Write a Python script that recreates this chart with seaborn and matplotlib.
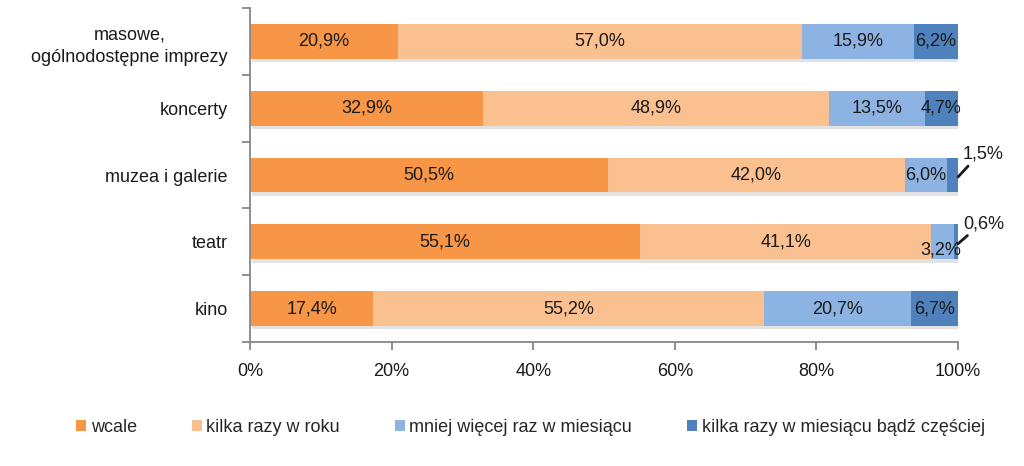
import numpy as np
import pandas as pd
import matplotlib
matplotlib.use("Agg")
import matplotlib.pyplot as plt
import matplotlib.patheffects as pe
import seaborn as sns
from matplotlib.patches import Patch

categories = ["masowe,\nogólnodostępne imprezy", "koncerty", "muzea i galerie", "teatr", "kino"]
series_names = ["wcale", "kilka razy w roku", "mniej więcej raz w miesiącu",
                "kilka razy w miesiącu bądź częściej"]
wcale = [20.9, 32.9, 50.5, 55.1, 17.4]
kilka_rok = [57.0, 48.9, 42.0, 41.1, 55.2]
raz_miesiac = [15.9, 13.5, 6.0, 3.2, 20.7]
kilka_miesiac = [6.2, 4.7, 1.5, 0.6, 6.7]
colors = ["#F79646", "#FAC090", "#8DB3E2", "#4F81BD"]
xticks = [0, 20, 40, 60, 80, 100]

sns.set_theme(style="white")
plt.rcParams["font.family"] = ["Liberation Sans", "DejaVu Sans"]

fig = plt.figure(figsize=(10.24, 4.66), dpi=100)
ax = fig.add_axes([250 / 1024, 1 - 342 / 466, 708 / 1024, 334 / 466])

vals = np.array([wcale, kilka_rok, raz_miesiac, kilka_miesiac])
cum = np.cumsum(vals, axis=0)

for i in range(3, -1, -1):
    df = pd.DataFrame({"cat": categories, "val": cum[i]})
    sns.barplot(data=df, x="val", y="cat", orient="h", color=colors[i],
                saturation=1, width=0.52, ax=ax, linewidth=0, zorder=2)

# soft shadow under the whole stacked bars (only the full-length layer)
for p in ax.patches[:len(categories)]:
    p.set_path_effects([pe.SimplePatchShadow(offset=(1.5, -2.5), shadow_rgbFace="#a0a0a0", alpha=0.3),
                        pe.Normal()])

fs = 13
tc = "#1a1a1a"
for i in range(4):
    for j in range(len(categories)):
        v = vals[i, j]
        center = cum[i, j] - v / 2
        label = f"{v:.1f}%".replace(".", ",")
        if v < 2.5 and j in (2, 3):
            ty = j - 0.31 if j == 2 else j - 0.27
            ax.annotate(label, xy=(cum[i, j], j + 0.03), xytext=(100.7, ty),
                        fontsize=fs, color=tc, ha="left", va="center",
                        annotation_clip=False,
                        arrowprops=dict(arrowstyle="-", color=tc, lw=2,
                                        shrinkA=0, shrinkB=0, relpos=(0.2, 0.0)))
        elif j == 3 and i == 2:
            ax.text(center - 0.2, j + 0.13, label, ha="center", va="center", fontsize=fs,
                    color=tc, zorder=5)
        else:
            ax.text(center, j, label, ha="center", va="center", fontsize=fs,
                    color=tc, zorder=5)

ax.set_xlim(0, 100)
ax.set_ylim(4.5, -0.5)
ax.set_xticks(xticks)
ax.set_xticklabels([f"{t}%" for t in xticks], fontsize=fs, color=tc)
ax.set_yticks(np.arange(-0.5, 5, 1))
ax.set_yticklabels([])
ax.set_yticks(np.arange(len(categories)), minor=True)
ax.set_yticklabels(categories, minor=True, fontsize=fs, color=tc,
                   multialignment="center", linespacing=1.4)
ax.tick_params(axis="y", which="major", length=6, width=1.3, color="#868686", direction="out", left=True)
ax.tick_params(axis="y", which="minor", length=0, pad=16)
ax.tick_params(axis="x", length=6, width=1.3, color="#868686", direction="out", bottom=True, pad=9)
ax.set_xlabel("")
ax.set_ylabel("")
for s in ["top", "right"]:
    ax.spines[s].set_visible(False)
for s in ["left", "bottom"]:
    ax.spines[s].set_color("#868686")
    ax.spines[s].set_linewidth(1.3)
ax.grid(False)

handles = [Patch(facecolor=c, edgecolor="none") for c in colors]
fig.legend(handles, series_names, loc="center", bbox_to_anchor=(0.518, 1 - 427 / 466),
           ncol=4, frameon=False, fontsize=fs, handlelength=0.55, handleheight=0.55,
           handletextpad=0.25, columnspacing=3.05)

fig.savefig("out.png", dpi=100)
